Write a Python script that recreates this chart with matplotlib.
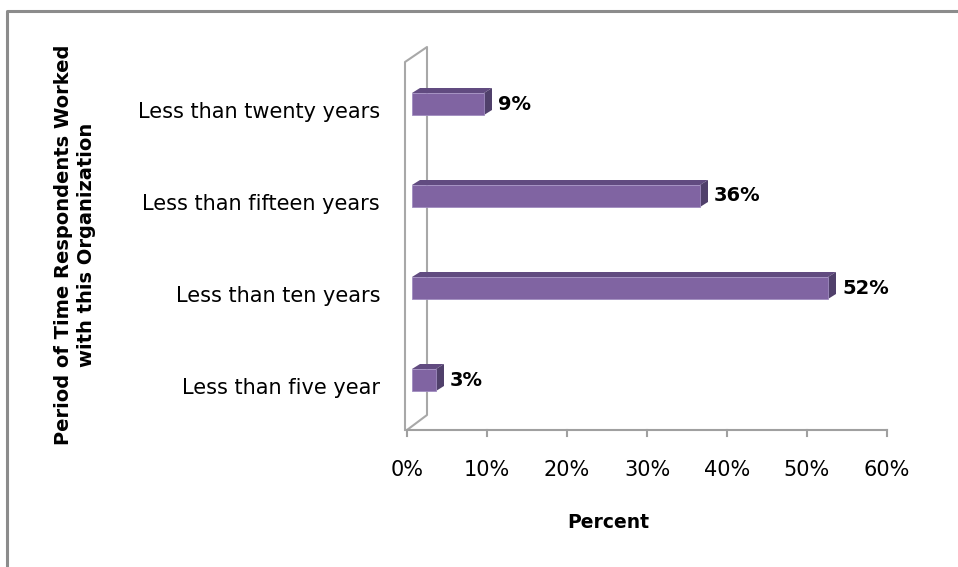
import matplotlib.pyplot as plt
from matplotlib.patches import Polygon

# data
categories = ['Less than five year', 'Less than ten years',
              'Less than fifteen years', 'Less than twenty years']
percent = [3, 52, 36, 9]
xticks = [0, 10, 20, 30, 40, 50, 60]

W, H = 958, 567
fig = plt.figure(figsize=(W / 100, H / 100), dpi=100)
plt.rcParams['font.family'] = ['DejaVu Sans']
fs = 15

# pixel layout of plot area
L, R, T, B = 407, 887, 62, 430
ax = fig.add_axes([L / W, 1 - B / H, (R - L) / W, (B - T) / H])
ax.set_xlim(0, 60)
ax.set_ylim(-0.5, 3.5)
ax.axis('off')

ux = 60 / (R - L)   # data units per pixel
uy = 4 / (B - T)

front = '#8064A2'
topc = '#614B80'
side = '#50406B'
dx, dy = 8 * ux, 5 * uy
x0 = 5 * ux
h = 22 * uy
for i, v in enumerate(percent):
    yc = i + 4 * uy
    yb, yt = yc - h / 2, yc + h / 2
    x1 = x0 + v
    ax.add_patch(Polygon([(x0, yt), (x1, yt), (x1 + dx, yt + dy), (x0 + dx, yt + dy)],
                         closed=True, fc=topc, ec='none'))
    ax.add_patch(Polygon([(x1, yb), (x1 + dx, yb + dy), (x1 + dx, yt + dy), (x1, yt)],
                         closed=True, fc=side, ec='none'))
    ax.add_patch(Polygon([(x0, yb), (x1, yb), (x1, yt), (x0, yt)],
                         closed=True, fc=front, ec='#A08CC0', lw=0.6))
    ax.text(x1 + dx + 6 * ux, yc, '%d%%' % v, ha='left', va='center',
            fontsize=14, fontweight='bold', color='black')
    ax.text(-27 * ux, i - 4 * uy, categories[i], ha='right', va='center',
            fontsize=fs, color='black')

for t in xticks:
    ax.plot([t, t], [-0.5, -0.5 - 6 * uy], color='#A0A0A0', lw=1.5, clip_on=False)
    ax.text(t, -0.5 - 40 * uy, '%d%%' % t, ha='center', va='center', fontsize=fs)
ax.plot([0, 60], [-0.5, -0.5], color='#A0A0A0', lw=1.5, clip_on=False)

# wall and border in pixel coordinates
ov = fig.add_axes([0, 0, 1, 1], zorder=-1)
ov.set_xlim(0, W)
ov.set_ylim(H, 0)
ov.axis('off')
g = '#A8A8A8'
ov.plot([405, 405, 427, 427, 407], [430, 62, 47, 415, 430], color=g, lw=1.5)
ov.plot([7, 7, W], [H, 11, 11], color='#8C8C8C', lw=2.2)

fig.text(608 / W, 1 - 523 / H, 'Percent', ha='center', va='center',
         fontsize=13.5, fontweight='bold')
fig.text(75 / W, 1 - 245 / H, 'Period of Time Respondents Worked\nwith this Organization',
         ha='center', va='center', rotation=90, fontsize=14, fontweight='bold',
         linespacing=1.3)

fig.savefig('out.png', dpi=100)
